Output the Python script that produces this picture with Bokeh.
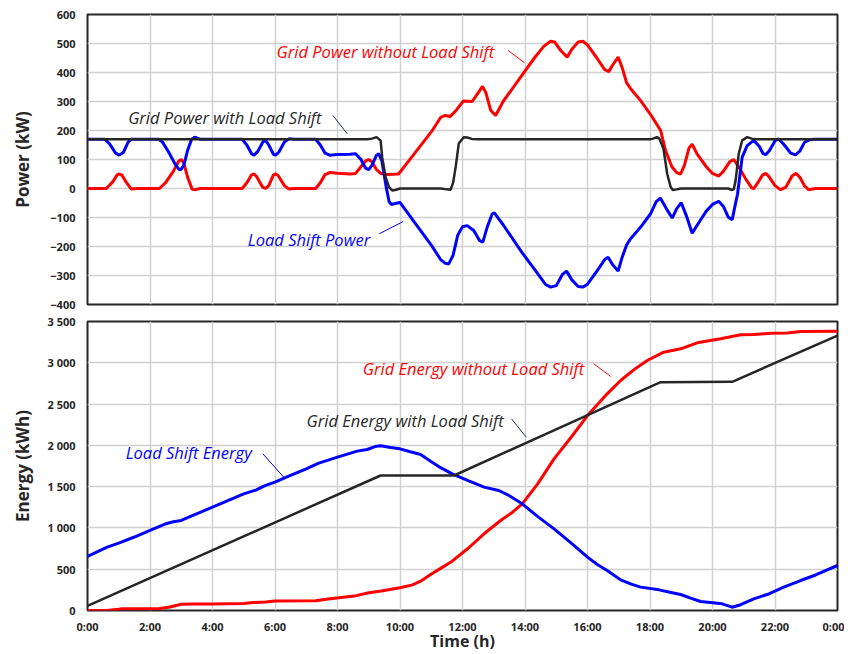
from bokeh.plotting import figure
from bokeh.layouts import column
from bokeh.models import FixedTicker, Range1d
from bokeh.core.properties import value
from bokeh.embed import file_html
from bokeh.resources import INLINE

FONT = "Open Sans"
RED = "#ff0000"
BLUE = "#0000ff"
DARK = "#262626"

# ---------------- Power data (kW) ----------------
red_p_t = [0, 0.6, 0.8, 0.95, 1.02, 1.1, 1.25, 1.4, 1.6, 2.3, 2.5, 2.75, 2.92, 3.0, 3.08, 3.2, 3.35, 3.45, 3.6,
           4.95, 5.1, 5.25, 5.33, 5.42, 5.6, 5.7, 5.8, 5.95, 6.02, 6.1, 6.3, 6.45, 6.6, 7.3, 7.45, 7.6, 7.75, 8.0,
           8.4, 8.58, 8.75, 8.9, 9.0, 9.1, 9.25, 9.38, 9.6, 9.95, 10.1, 10.66, 11.0, 11.3, 11.45, 11.6, 11.8, 12.03,
           12.31, 12.5, 12.64, 12.75, 12.9, 13.06, 13.3, 13.9, 14.3, 14.6, 14.82, 14.95, 15.15, 15.35, 15.5, 15.7,
           15.85, 16.0, 16.3, 16.55, 16.68, 16.8, 16.98, 17.1, 17.25, 17.38, 17.7, 18.05, 18.34, 18.5, 18.7, 18.85,
           18.98, 19.1, 19.25, 19.35, 19.5, 19.8, 20.0, 20.2, 20.35, 20.55, 20.68, 20.85, 21.05, 21.25, 21.32, 21.45,
           21.6, 21.7, 21.8, 22.0, 22.18, 22.35, 22.55, 22.68, 22.8, 22.95, 23.08, 23.3, 24]
red_p_v = [0, 0, 22, 47, 50, 46, 20, -2, 0, 0, 20, 60, 95, 100, 88, 40, -3, -4, 0,
           0, 20, 47, 50, 40, 5, 0, 10, 47, 50, 45, 10, -2, 0, 0, 20, 48, 55, 53,
           50, 52, 75, 95, 100, 92, 65, 52, 48, 50, 70, 148, 195, 245, 252, 248, 270, 302,
           300, 330, 352, 330, 270, 252, 300, 390, 450, 490, 508, 505, 475, 453, 480, 505,
           508, 495, 450, 410, 403, 425, 453, 420, 365, 344, 303, 250, 200, 130, 75, 55,
           50, 80, 140, 153, 120, 75, 52, 43, 60, 92, 100, 72, 35, 3, -1, 20,
           46, 52, 42, 10, -4, 5, 44, 52, 38, 8, -4, 0, 0]

blue_p_t = [0, 0.55, 0.7, 0.9, 1.02, 1.15, 1.3, 1.4, 2.28, 2.4, 2.6, 2.8, 2.92, 2.98, 3.08, 3.2, 3.33, 3.43, 3.6,
            4.95, 5.1, 5.25, 5.33, 5.45, 5.62, 5.7, 5.8, 5.95, 6.02, 6.12, 6.3, 6.45, 6.6, 7.3, 7.45, 7.6, 7.75,
            8.0, 8.4, 8.58, 8.75, 8.9, 9.0, 9.1, 9.25, 9.32, 9.42, 9.55, 9.65, 9.72, 9.85, 10.0, 10.15, 10.66, 11.0,
            11.3, 11.45, 11.56, 11.7, 11.85, 12.0, 12.15, 12.36, 12.55, 12.65, 12.8, 12.95, 13.02, 13.3, 13.9, 14.3,
            14.65, 14.82, 15.0, 15.2, 15.33, 15.5, 15.7, 15.85, 16.0, 16.3, 16.55, 16.66, 16.8, 16.98, 17.1, 17.25,
            17.38, 17.7, 18.02, 18.2, 18.33, 18.5, 18.71, 18.85, 19.0, 19.15, 19.35, 19.55, 19.8, 20.0, 20.2, 20.35,
            20.5, 20.63, 20.72, 20.8, 20.95, 21.11, 21.32, 21.5, 21.62, 21.7, 21.82, 22.0, 22.12, 22.3, 22.5, 22.66,
            22.8, 22.95, 23.14, 23.3, 24]
blue_p_v = [170, 170, 155, 122, 115, 125, 160, 170, 170, 160, 125, 85, 67, 64, 80, 130, 170, 177, 170,
            170, 150, 120, 115, 128, 162, 166, 150, 118, 115, 125, 160, 172, 170, 170, 150, 122, 115,
            117, 118, 120, 100, 70, 65, 80, 115, 120, 95, 10, -45, -55, -52, -48, -70, -145, -195,
            -245, -258, -260, -230, -160, -132, -128, -145, -180, -185, -130, -88, -84, -125, -220, -278,
            -330, -340, -335, -296, -285, -315, -338, -340, -330, -285, -245, -237, -262, -285, -240, -195,
            -173, -133, -87, -45, -33, -65, -102, -70, -49, -90, -154, -120, -78, -55, -44, -62,
            -98, -108, -60, -20, 108, 148, 166, 145, 120, 117, 130, 165, 171, 150, 122, 116,
            130, 160, 169, 170, 170]

black_p_t = [0, 8.95, 9.1, 9.25, 9.38, 9.43, 9.54, 9.65, 9.75, 9.85, 10.0, 11.3, 11.5, 11.62, 11.7, 11.78, 11.88,
             12.04, 12.15, 12.3, 12.5, 18.0, 18.1, 18.22, 18.3, 18.43, 18.55, 18.66, 18.73, 18.85, 19.0, 20.5,
             20.63, 20.68, 20.74, 20.84, 20.95, 21.11, 21.25, 21.4, 24]
black_p_v = [170, 170, 172, 177, 165, 108, 39, 5, -7, -5, 0, 0, -3, -4, 20, 73, 155,
             177, 176, 171, 170, 170, 172, 177, 172, 138, 51, 5, -5, -3, 0, 0,
             -5, -3, 28, 120, 166, 177, 172, 170, 170]

# ---------------- Energy data (kWh) ----------------
blue_e_t = [0, 0.63, 1.0, 1.5, 2.0, 2.5, 2.75, 3.0, 3.3, 4.0, 5.0, 5.4, 5.7, 6.0, 6.4, 7.0, 7.4, 8.0, 8.63, 8.95,
            9.2, 9.38, 9.7, 10.0, 10.3, 10.66, 10.98, 11.3, 11.67, 12.2, 12.69, 13.16, 13.5, 13.91, 14.4, 14.93,
            15.5, 16.0, 16.3, 16.63, 17.06, 17.4, 17.7, 18.29, 18.6, 18.98, 19.3, 19.62, 20.31, 20.63, 20.9, 21.32,
            21.8, 22.28, 22.8, 23.3, 24]
blue_e_v = [654, 767, 815, 890, 969, 1050, 1075, 1090, 1140, 1251, 1413, 1460, 1515, 1554, 1620, 1716, 1784, 1857,
            1930, 1950, 1985, 1994, 1975, 1958, 1925, 1889, 1808, 1730, 1655, 1570, 1494, 1453, 1390, 1292, 1140,
            989, 810, 646, 560, 484, 371, 320, 283, 250, 225, 194, 150, 109, 81, 40, 70, 141, 200, 283, 360, 430, 545]

red_e_t = [0, 0.6, 1.0, 1.1, 2.3, 2.6, 3.0, 3.4, 4.0, 5.0, 5.3, 5.7, 6.0, 7.3, 7.7, 8.6, 9.0, 9.4, 10.0, 10.4,
           10.66, 10.98, 11.3, 11.67, 12.2, 12.69, 13.22, 13.6, 13.91, 14.4, 14.93, 15.5, 16.0, 16.63, 17.06, 17.5,
           17.91, 18.44, 18.98, 19.51, 20.26, 20.9, 21.32, 21.86, 22.39, 22.82, 24]
red_e_v = [0, 0, 15, 20, 25, 40, 75, 78, 80, 85, 98, 102, 115, 118, 140, 180, 215, 235, 275, 310,
           355, 436, 510, 597, 760, 929, 1090, 1190, 1292, 1530, 1837, 2110, 2361, 2624, 2785, 2920,
           3028, 3128, 3169, 3242, 3290, 3339, 3342, 3358, 3362, 3379, 3382]

black_e_t = [0, 9.38, 11.73, 18.34, 20.63, 24]
black_e_v = [57, 1635, 1635, 2765, 2770, 3330]

power_ticks = [-400, -300, -200, -100, 0, 100, 200, 300, 400, 500, 600]
energy_ticks = [0, 500, 1000, 1500, 2000, 2500, 3000, 3500]
energy_tick_labels = ["0", "500", "1 000", "1 500", "2 000", "2 500", "3 000", "3 500"]
hour_ticks = list(range(0, 25, 2))
hour_labels = ["0:00", "2:00", "4:00", "6:00", "8:00", "10:00", "12:00", "14:00", "16:00", "18:00",
               "20:00", "22:00", "0:00"]


def style(p, label_standoff):
    p.background_fill_color = "white"
    p.border_fill_color = "white"
    p.outline_line_color = DARK
    p.outline_line_width = 2
    p.outline_line_alpha = 1
    for g in (p.xgrid, p.ygrid):
        g.grid_line_color = "#d0d0d0"
        g.grid_line_width = 1.5
    for ax in (p.xaxis, p.yaxis):
        ax.axis_line_color = None
        ax.major_tick_line_color = None
        ax.minor_tick_line_color = None
        ax.major_tick_in = 0
        ax.major_tick_out = 0
        ax.minor_tick_in = 0
        ax.minor_tick_out = 0
        ax.major_label_text_font = FONT
        ax.major_label_text_font_style = "bold"
        ax.major_label_text_font_size = "11px"
        ax.major_label_text_color = DARK
        ax.axis_label_text_font = FONT
        ax.axis_label_text_font_style = "bold"
        ax.axis_label_text_font_size = "17px"
        ax.axis_label_text_color = DARK
    p.yaxis.major_label_standoff = 12
    p.yaxis.axis_label_standoff = label_standoff


def note(p, x, y, txt, color):
    p.text(x=[x], y=[y], text=[txt], text_color=color, text_font=value(FONT),
           text_font_style="italic", text_font_size="16.5px", text_baseline="alphabetic", text_align="left")


# ---------------- Top figure ----------------
p1 = figure(width=844, height=313, x_range=Range1d(0, 24), y_range=Range1d(-400, 600),
            output_backend="svg", toolbar_location=None,
            min_border_left=87, min_border_right=7, min_border_top=14, min_border_bottom=9)
style(p1, 13)
p1.xaxis.ticker = FixedTicker(ticks=hour_ticks)
p1.xaxis.visible = False
p1.yaxis.ticker = FixedTicker(ticks=power_ticks)
p1.yaxis.axis_label = "Power (kW)"

p1.line(red_p_t, red_p_v, line_color=RED, line_width=3)
p1.line(blue_p_t, blue_p_v, line_color=BLUE, line_width=3)
p1.line(black_p_t, black_p_v, line_color=DARK, line_width=2.5)

note(p1, 6.05, 473, "Grid Power without Load Shift", RED)
p1.segment(x0=[13.46], y0=[476], x1=[13.98], y1=[434], line_color=RED, line_width=1)
note(p1, 1.3, 246, "Grid Power with Load Shift", DARK)
p1.segment(x0=[7.85], y0=[252], x1=[8.31], y1=[189], line_color="#203050", line_width=1)
note(p1, 5.13, -177, "Load Shift Power", BLUE)
p1.segment(x0=[9.34], y0=[-156], x1=[10.1], y1=[-114], line_color=BLUE, line_width=1)

# ---------------- Bottom figure ----------------
p2 = figure(width=844, height=341, x_range=Range1d(0, 24), y_range=Range1d(0, 3500),
            output_backend="svg", toolbar_location=None,
            min_border_left=87, min_border_right=7, min_border_top=8, min_border_bottom=30)
style(p2, 10)
p2.xaxis.ticker = FixedTicker(ticks=hour_ticks)
p2.xaxis.major_label_overrides = {t: l for t, l in zip(hour_ticks, hour_labels)}
p2.xaxis.major_label_standoff = 8
p2.xaxis.axis_label = "Time (h)"
p2.xaxis.axis_label_text_font_size = "16px"
p2.xaxis.axis_label_standoff = -7
p2.yaxis.ticker = FixedTicker(ticks=energy_ticks)
p2.yaxis.major_label_overrides = {t: l for t, l in zip(energy_ticks, energy_tick_labels)}
p2.yaxis.axis_label = "Energy (kWh)"

p2.line(red_e_t, red_e_v, line_color=RED, line_width=3)
p2.line(blue_e_t, blue_e_v, line_color=BLUE, line_width=3)
p2.line(black_e_t, black_e_v, line_color=DARK, line_width=2.5)

note(p2, 1.22, 1917, "Load Shift Energy", BLUE)
p2.segment(x0=[5.61], y0=[1898], x1=[6.28], y1=[1614], line_color=BLUE, line_width=1)
note(p2, 7.01, 2301, "Grid Energy with Load Shift", DARK)
p2.segment(x0=[13.57], y0=[2321], x1=[14.04], y1=[2099], line_color="#203050", line_width=1)
note(p2, 8.81, 2927, "Grid Energy without Load Shift", RED)
p2.segment(x0=[16.2], y0=[2988], x1=[16.74], y1=[2834], line_color=RED, line_width=1)

layout = column(p1, p2, spacing=0)
open("out.html", "w").write(file_html(layout, INLINE))
